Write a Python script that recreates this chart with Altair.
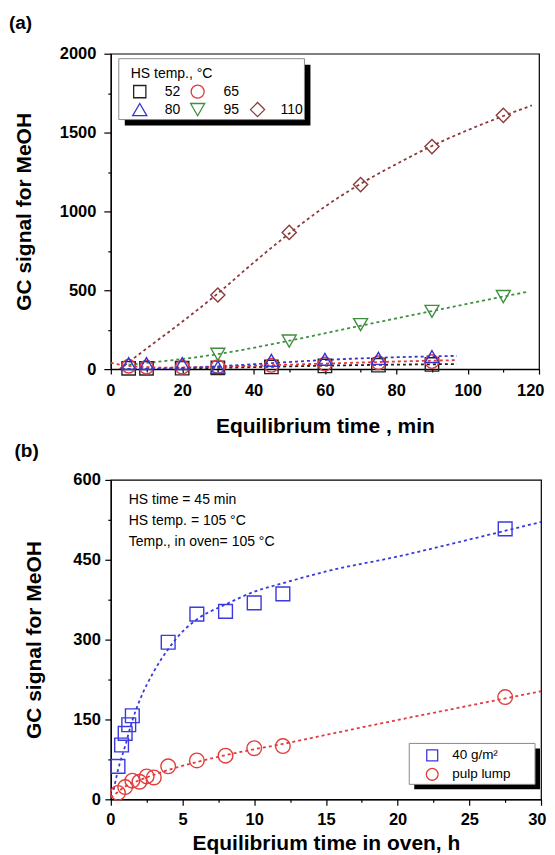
import altair as alt
import pandas as pd

FONT = "Liberation Sans"

# ---------------- panel (a) data ----------------
a_series = ["52", "65", "80", "95", "110"]
a_colors = ["#222222", "#e23a3a", "#3434d2", "#3f8f3f", "#8c3a3a"]
a_shapes = ["square", "circle", "triangle-up", "triangle-down", "diamond"]
a_sizes = [180, 200, 300, 300, 340]

t_low = [5, 10, 20, 30, 45, 60, 75, 90]
y52 = [5, 5, 6, 8, 14, 20, 25, 30]
y65 = [18, 12, 12, 15, 24, 32, 40, 48]
y80 = [35, 35, 35, 12, 56, 62, 68, 80]
t_high = [30, 50, 70, 90, 110]
y95 = [94, 178, 282, 366, 460]
y110 = [470, 867, 1170, 1411, 1609]

fit52_t = [3, 20, 30, 45, 60, 75, 97]
fit52_y = [0, 3, 8, 15, 22, 27, 32]
fit65_t = [0, 5, 15, 30, 45, 60, 75, 97]
fit65_y = [40, 20, 10, 15, 25, 35, 45, 57]
fit80_t = [3, 20, 30, 45, 60, 75, 97]
fit80_y = [0, 8, 18, 38, 58, 72, 84]
fit95_t = [5, 30, 50, 70, 90, 110, 117]
fit95_y = [28, 95, 180, 275, 368, 460, 491]
fit110_t = [2.5, 10, 20, 30, 40, 50, 60, 70, 80, 90, 100, 110, 118]
fit110_y = [0, 130, 300, 480, 675, 860, 1030, 1175, 1300, 1415, 1515, 1605, 1672]

# ---------------- panel (b) data ----------------
b_series = ["40 g/m²", "pulp lump"]
b_colors = ["#3a3ae0", "#e23c3c"]
b_shapes = ["square", "circle"]
b_sizes = [190, 215]

t_40 = [0.5, 0.75, 1, 1.25, 1.5, 4, 6, 8, 10, 12, 27.5]
y_40 = [62, 102, 124, 140, 157, 295, 348, 353, 369, 386, 508]
t_pulp = [0.5, 1, 1.5, 2, 2.5, 3, 4, 6, 8, 10, 12, 27.5]
y_pulp = [12, 23, 35, 33, 43, 41, 62, 73, 82, 96, 100, 192]

fit40_t = [0.2, 0.5, 1, 1.5, 2, 3, 4, 5, 6, 8, 10, 12, 15, 20, 25, 30]
fit40_y = [18, 55, 100, 148, 185, 240, 282, 315, 338, 366, 390, 406, 428, 456, 488, 521]
fitpulp_t = [0, 0.5, 1, 2, 3, 4, 6, 8, 10, 12, 15, 20, 25, 30]
fitpulp_y = [3, 14, 24, 36, 46, 55, 70, 83, 94, 104, 121, 149, 176, 203]


def long(pairs):
    frames = []
    for name, xs, ys in pairs:
        frames.append(pd.DataFrame({"t": xs, "v": ys, "s": name}))
    return pd.concat(frames, ignore_index=True)


a_pts = long([("52", t_low, y52), ("65", t_low, y65), ("80", t_low, y80),
              ("95", t_high, y95), ("110", t_high, y110)])
a_fit = long([("52", fit52_t, fit52_y), ("65", fit65_t, fit65_y), ("80", fit80_t, fit80_y),
              ("95", fit95_t, fit95_y), ("110", fit110_t, fit110_y)])
b_pts = long([(b_series[0], t_40, y_40), (b_series[1], t_pulp, y_pulp)])
b_fit = long([(b_series[0], fit40_t, fit40_y), (b_series[1], fitpulp_t, fitpulp_y)])

one = pd.DataFrame({"k": [0]})


def vtext(txt, x, y, size=14, weight="normal", baseline="middle"):
    return alt.Chart(one).mark_text(
        text=txt, align="left", baseline=baseline, font=FONT, fontSize=size,
        fontWeight=weight, color="black"
    ).encode(x=alt.value(x), y=alt.value(y))


def vsym(shape, color, x, y, size):
    return alt.Chart(one).mark_point(
        shape=shape, filled=False, color=color, size=size, strokeWidth=1.3, opacity=1
    ).encode(x=alt.value(x), y=alt.value(y))


def vrect(x, x2, y, y2, fill, stroke=None):
    kw = dict(fill=fill, opacity=1)
    if stroke:
        kw.update(stroke=stroke, strokeWidth=1)
    return alt.Chart(one).mark_rect(**kw).encode(
        x=alt.value(x), x2=alt.value(x2), y=alt.value(y), y2=alt.value(y2))


def axis(title, values, major, tick, lpad, tpad, extent=None, flush=False):
    kw = dict(
        title=title, values=values, format="d",
        labelExpr=f"datum.value % {major} == 0 ? datum.label : ''",
        tickSize={"condition": {"test": f"datum.value % {major} != 0", "value": 3}, "value": tick},
        labelPadding=lpad, titlePadding=tpad, grid=False,
        labelFont=FONT, labelFontSize=16.5, labelFontWeight="bold", labelColor="black",
        titleFont=FONT, titleFontSize=21, titleFontWeight="bold", titleColor="black",
        domainColor="black", tickColor="black", tickWidth=1.2, domainWidth=1.2,
        labelOverlap=False,
    )
    if flush:
        kw.update(labelFlush=True, labelFlushOffset=5)
    else:
        kw.update(labelFlush=False)
    if extent is not None:
        kw.update(minExtent=extent, maxExtent=extent)
    return alt.Axis(**kw)


# ---------------- panel (a) ----------------
ax_x = alt.X("t:Q", scale=alt.Scale(domain=[0, 120], nice=False),
             axis=axis("Equilibrium time , min", list(range(0, 121, 10)), 20, 5, 8, 17, flush=True))
ax_y = alt.Y("v:Q", scale=alt.Scale(domain=[0, 2000], nice=False),
             axis=axis("GC signal for MeOH", list(range(0, 2001, 250)), 500, 7, 8, 20, 56))
col_a = alt.Color("s:N", scale=alt.Scale(domain=a_series, range=a_colors), legend=None)
shp_a = alt.Shape("s:N", scale=alt.Scale(domain=a_series, range=a_shapes), legend=None)
siz_a = alt.Size("s:N", scale=alt.Scale(domain=a_series, range=a_sizes), legend=None)

a_lines = alt.Chart(a_fit).mark_line(strokeDash=[3, 3], strokeWidth=1.8,
                                     interpolate="monotone", clip=True).encode(
    x=ax_x, y=ax_y, color=col_a)
a_marks = alt.Chart(a_pts).mark_point(filled=False, strokeWidth=1.4, opacity=1).encode(
    x=ax_x, y=ax_y, color=col_a, shape=shp_a, size=siz_a)

a_legend = [
    vrect(14, 200, 11, 72, "black"),
    vrect(8, 194, 5, 66, "white", "#8a8a8a"),
    vtext("HS temp., °C", 20, 20),
    vsym("square", a_colors[0], 29, 38, 150), vtext("52", 54, 38),
    vsym("circle", a_colors[1], 87, 38, 170), vtext("65", 113, 38),
    vsym("triangle-up", a_colors[2], 29, 56, 200), vtext("80", 54, 56),
    vsym("triangle-down", a_colors[3], 87, 56, 200), vtext("95", 113, 56),
    vsym("diamond", a_colors[4], 147, 56, 200), vtext("110", 170, 56),
]
a_label = vtext("(a)", -102, -40, size=19, weight="bold", baseline="top")

top = alt.layer(a_lines, a_marks, *a_legend, a_label).properties(width=429, height=316)

# ---------------- panel (b) ----------------
bx = alt.X("t:Q", scale=alt.Scale(domain=[0, 30], nice=False),
           axis=axis("Equilibrium time in oven, h", [i * 2.5 for i in range(13)], 5, 6, 6, 4.5,
                     flush=True))
by = alt.Y("v:Q", scale=alt.Scale(domain=[0, 600], nice=False),
           axis=axis("GC signal for MeOH", list(range(0, 601, 75)), 150, 6, 4.5, 27, 39))
col_b = alt.Color("s:N", scale=alt.Scale(domain=b_series, range=b_colors), legend=None)
shp_b = alt.Shape("s:N", scale=alt.Scale(domain=b_series, range=b_shapes), legend=None)
siz_b = alt.Size("s:N", scale=alt.Scale(domain=b_series, range=b_sizes), legend=None)

b_lines = alt.Chart(b_fit).mark_line(strokeDash=[3, 3], strokeWidth=1.8,
                                     interpolate="monotone", clip=True).encode(
    x=bx, y=by, color=col_b)
b_marks = alt.Chart(b_pts).mark_point(filled=False, strokeWidth=1.4, opacity=1).encode(
    x=bx, y=by, color=col_b, shape=shp_b, size=siz_b)

b_notes = [
    vtext("HS time = 45 min", 18, 20),
    vtext("HS temp. = 105 °C", 18, 41),
    vtext("Temp., in oven= 105 °C", 18, 62),
]
b_legend = [
    vrect(304, 430, 269, 310, "black"),
    vrect(299, 425, 264, 305, "white", "#8a8a8a"),
    vsym("square", b_colors[0], 322, 276, 120), vtext(b_series[0], 342, 276, size=13.5),
    vsym("circle", b_colors[1], 322, 295, 140), vtext(b_series[1], 342, 295, size=13.5),
]
b_label = vtext("(b)", -96.5, -38, size=19, weight="bold", baseline="top")

bottom = alt.layer(b_lines, b_marks, *b_notes, *b_legend, b_label).properties(
    width=431, height=320)

chart = alt.vconcat(top, bottom, spacing=3).properties(
    padding={"left": 0, "top": 4, "right": 0, "bottom": 0}
).resolve_scale(color="independent", shape="independent", size="independent",
                x="independent", y="independent"
).configure_view(stroke="black", strokeWidth=1.2)

chart.save("out.html", embed_options={"renderer": "svg", "actions": False})
